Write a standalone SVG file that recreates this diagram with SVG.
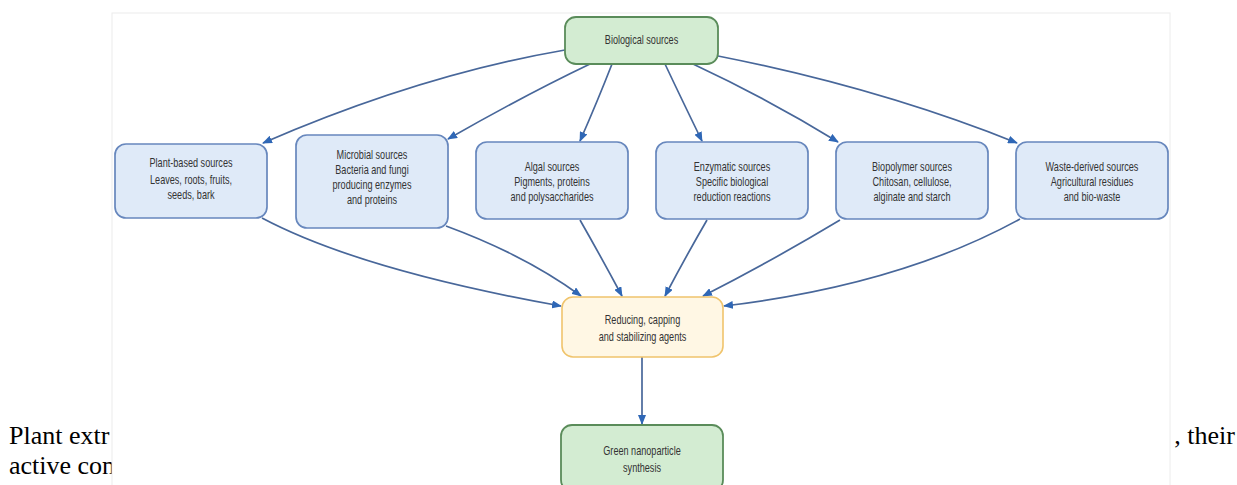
<svg xmlns="http://www.w3.org/2000/svg" width="1237" height="485" viewBox="0 0 1237 485">
<style>
.body{font-family:"Liberation Serif","Times New Roman",serif;font-size:26px;fill:#000}
.lbl{font-family:"Liberation Sans",Arial,sans-serif;font-size:12px;fill:#333;text-anchor:middle}
.blue{fill:#dfeaf8;stroke:#6787bd;stroke-width:1.7}
.green{fill:#d3ecd2;stroke:#5a8c5a;stroke-width:1.8}
.yellow{fill:#fff7e4;stroke:#f0c46c;stroke-width:1.6}
.conn{fill:none;stroke:#48679a;stroke-width:1.7}
</style>
<defs>
<marker id="ah" markerUnits="userSpaceOnUse" markerWidth="10" markerHeight="8" refX="9" refY="4" orient="auto">
<path d="M0,0 L10,4 L0,8 z" fill="#2f67b6"/>
</marker>
</defs>
<rect width="1237" height="485" fill="#ffffff"/>
<text class="body" x="9" y="444">Plant extr</text>
<text class="body" x="9" y="474">active con</text>
<text class="body" x="1235" y="444" text-anchor="end">, their</text>
<rect x="112" y="13" width="1058" height="480" fill="#ffffff" stroke="#ececec" stroke-width="1"/>
<g id="connectors">
<path class="conn" marker-end="url(#ah)" d="M565,50 Q420,75 263,143"/>
<path class="conn" marker-end="url(#ah)" d="M590,64 Q525,95 448,139"/>
<path class="conn" marker-end="url(#ah)" d="M612,64 Q598,100 580,141"/>
<path class="conn" marker-end="url(#ah)" d="M665,64 Q682,100 702,141"/>
<path class="conn" marker-end="url(#ah)" d="M693,64 Q770,100 838,142"/>
<path class="conn" marker-end="url(#ah)" d="M718,56 Q880,88 1017,143"/>
<path class="conn" marker-end="url(#ah)" d="M262,218 Q360,270 561,306"/>
<path class="conn" marker-end="url(#ah)" d="M446,226 Q525,255 581,296"/>
<path class="conn" marker-end="url(#ah)" d="M580,220 Q600,255 622,296"/>
<path class="conn" marker-end="url(#ah)" d="M707,220 Q685,258 665,296"/>
<path class="conn" marker-end="url(#ah)" d="M840,220 Q770,262 703,296"/>
<path class="conn" marker-end="url(#ah)" d="M1020,219 Q900,285 724,306"/>
<path class="conn" marker-end="url(#ah)" d="M642,357 L642,424"/>
</g>
<g id="biological-sources">
<rect class="green" x="565" y="17" width="153" height="47" rx="11"/>
<text class="lbl" transform="translate(641.5 0) scale(0.76 1)"><tspan x="0" y="44">Biological sources</tspan></text>
</g>
<g id="plant-based">
<rect class="blue" x="115" y="144" width="152" height="74" rx="11"/>
<text class="lbl" transform="translate(191 0) scale(0.76 1)"><tspan x="0" y="167">Plant-based sources</tspan><tspan x="0" y="184">Leaves, roots, fruits,</tspan><tspan x="0" y="199">seeds, bark</tspan></text>
</g>
<g id="microbial">
<rect class="blue" x="296" y="135" width="152" height="93" rx="11"/>
<text class="lbl" transform="translate(372 0) scale(0.76 1)"><tspan x="0" y="159">Microbial sources</tspan><tspan x="0" y="174">Bacteria and fungi</tspan><tspan x="0" y="189">producing enzymes</tspan><tspan x="0" y="204">and proteins</tspan></text>
</g>
<g id="algal">
<rect class="blue" x="476" y="142" width="152" height="77" rx="11"/>
<text class="lbl" transform="translate(552 0) scale(0.76 1)"><tspan x="0" y="171">Algal sources</tspan><tspan x="0" y="186">Pigments, proteins</tspan><tspan x="0" y="201">and polysaccharides</tspan></text>
</g>
<g id="enzymatic">
<rect class="blue" x="656" y="142" width="152" height="77" rx="11"/>
<text class="lbl" transform="translate(732 0) scale(0.76 1)"><tspan x="0" y="171">Enzymatic sources</tspan><tspan x="0" y="186">Specific biological</tspan><tspan x="0" y="201">reduction reactions</tspan></text>
</g>
<g id="biopolymer">
<rect class="blue" x="836" y="142" width="152" height="77" rx="11"/>
<text class="lbl" transform="translate(912 0) scale(0.76 1)"><tspan x="0" y="171">Biopolymer sources</tspan><tspan x="0" y="186">Chitosan, cellulose,</tspan><tspan x="0" y="201">alginate and starch</tspan></text>
</g>
<g id="waste-derived">
<rect class="blue" x="1016" y="142" width="152" height="77" rx="11"/>
<text class="lbl" transform="translate(1092 0) scale(0.76 1)"><tspan x="0" y="171">Waste-derived sources</tspan><tspan x="0" y="186">Agricultural residues</tspan><tspan x="0" y="201">and bio-waste</tspan></text>
</g>
<g id="reducing-agents">
<rect class="yellow" x="562" y="297" width="161" height="60" rx="11"/>
<text class="lbl" transform="translate(642.5 0) scale(0.76 1)"><tspan x="0" y="324">Reducing, capping</tspan><tspan x="0" y="341">and stabilizing agents</tspan></text>
</g>
<g id="green-synthesis">
<rect class="green" x="561" y="425" width="162" height="66" rx="11"/>
<text class="lbl" transform="translate(642 0) scale(0.76 1)"><tspan x="0" y="455">Green nanoparticle</tspan><tspan x="0" y="472">synthesis</tspan></text>
</g>
</svg>
